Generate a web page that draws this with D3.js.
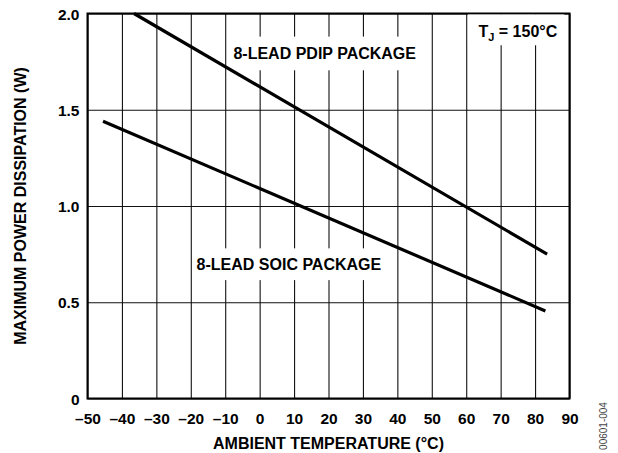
<!DOCTYPE html>
<html>
<head>
<meta charset="utf-8">
<script src="https://cdn.jsdelivr.net/npm/d3@7"></script>
<style>
  body { margin: 0; background: #fff; }
  text { font-family: "Liberation Sans", Arial, sans-serif; font-weight: bold; fill: #000; }
</style>
</head>
<body>
<div id="chart"></div>
<script>
// data
var xTicks = [-50, -40, -30, -20, -10, 0, 10, 20, 30, 40, 50, 60, 70, 80, 90];
var yTicks = [0, 0.5, 1.0, 1.5, 2.0];
var pdipTemp = [-36.5, 83.5];
var pdipPower = [2.0, 0.75];
var soicTemp = [-45.5, 83];
var soicPower = [1.44, 0.455];

var svgWidth = 618, svgHeight = 453;
var margin = { top: 13.5, right: 48.5, bottom: 54.5, left: 87.5 };
var width = svgWidth - margin.left - margin.right;
var height = svgHeight - margin.top - margin.bottom;

var svg = d3.select("#chart").append("svg")
    .attr("width", svgWidth)
    .attr("height", svgHeight);

var g = svg.append("g")
    .attr("transform", "translate(" + margin.left + "," + margin.top + ")");

var x = d3.scaleLinear().domain([-50, 90]).range([0, width]);
var y = d3.scaleLinear().domain([0, 2.0]).range([height, 0]);

function fmtX(d) { return d < 0 ? "\u2013" + Math.abs(d) : String(d); }
function fmtY(d) { return d === 0 ? "0" : d3.format(".1f")(d); }

// grid + axis labels
var xAxis = g.append("g")
    .attr("transform", "translate(0," + height + ")")
    .call(d3.axisBottom(x).tickValues(xTicks).tickSize(height).tickSizeOuter(0).tickPadding(8).tickFormat(fmtX));
xAxis.selectAll(".tick line").attr("transform", "translate(0," + (-height) + ")")
    .attr("stroke", "#111").attr("stroke-width", 1.1);
xAxis.select(".domain").remove();
xAxis.selectAll(".tick text").attr("y", 25).attr("dy", 0).style("font-size", "15.5px");

var yAxis = g.append("g")
    .call(d3.axisLeft(y).tickValues(yTicks).tickSize(-width).tickSizeOuter(0).tickPadding(8).tickFormat(fmtY));
yAxis.selectAll(".tick line").attr("stroke", "#111").attr("stroke-width", 1.1);
yAxis.select(".domain").remove();
yAxis.selectAll(".tick text").attr("x", -8).attr("dy", "0.36em").style("font-size", "15.5px");

// frame
g.append("rect")
    .attr("width", width).attr("height", height)
    .attr("fill", "none").attr("stroke", "#000").attr("stroke-width", 2);

// label boxes that hide the grid
function labelBox(x0, x1, y0, y1) {
    g.append("rect")
        .attr("x", x(x0)).attr("y", y(y1))
        .attr("width", x(x1) - x(x0)).attr("height", y(y0) - y(y1))
        .attr("fill", "#fff");
}
labelBox(-8.5, 47, 1.705, 1.88);
labelBox(-13, 37, 0.615, 0.78);
labelBox(60.5, 88.5, 1.835, 1.995);

// lines
var line = d3.line()
    .x(function (d) { return x(d[0]); })
    .y(function (d) { return y(d[1]); });

g.append("path")
    .datum(d3.zip(pdipTemp, pdipPower))
    .attr("d", line)
    .attr("fill", "none").attr("stroke", "#000").attr("stroke-width", 3.2);

g.append("path")
    .datum(d3.zip(soicTemp, soicPower))
    .attr("d", line)
    .attr("fill", "none").attr("stroke", "#000").attr("stroke-width", 3.2);

// annotations
g.append("text")
    .attr("x", x(18.9)).attr("y", y(1.792)).attr("dy", "0.36em")
    .attr("text-anchor", "middle").style("font-size", "16px")
    .text("8-LEAD PDIP PACKAGE");

g.append("text")
    .attr("x", x(8.5)).attr("y", y(0.698)).attr("dy", "0.36em")
    .attr("text-anchor", "middle").style("font-size", "16px")
    .text("8-LEAD SOIC PACKAGE");

var tj = g.append("text")
    .attr("x", x(75)).attr("y", y(1.91)).attr("dy", "0.36em")
    .attr("text-anchor", "middle").style("font-size", "16px");
tj.append("tspan").text("T");
tj.append("tspan").attr("dy", "4").style("font-size", "11px").text("J");
tj.append("tspan").attr("dy", "-4").text(" = 150°C");

// axis titles
svg.append("text")
    .attr("x", margin.left + width / 2).attr("y", 449)
    .attr("text-anchor", "middle").style("font-size", "16px")
    .text("AMBIENT TEMPERATURE (°C)");

svg.append("text")
    .attr("transform", "translate(26," + (margin.top + height / 2) + ") rotate(-90)")
    .attr("text-anchor", "middle").style("font-size", "16px")
    .text("MAXIMUM POWER DISSIPATION (W)");

svg.append("text")
    .attr("transform", "translate(607,426) rotate(-90)")
    .attr("text-anchor", "middle")
    .style("font-size", "10px").style("font-weight", "normal").style("fill", "#444")
    .text("00601-004");
</script>
</body>
</html>
